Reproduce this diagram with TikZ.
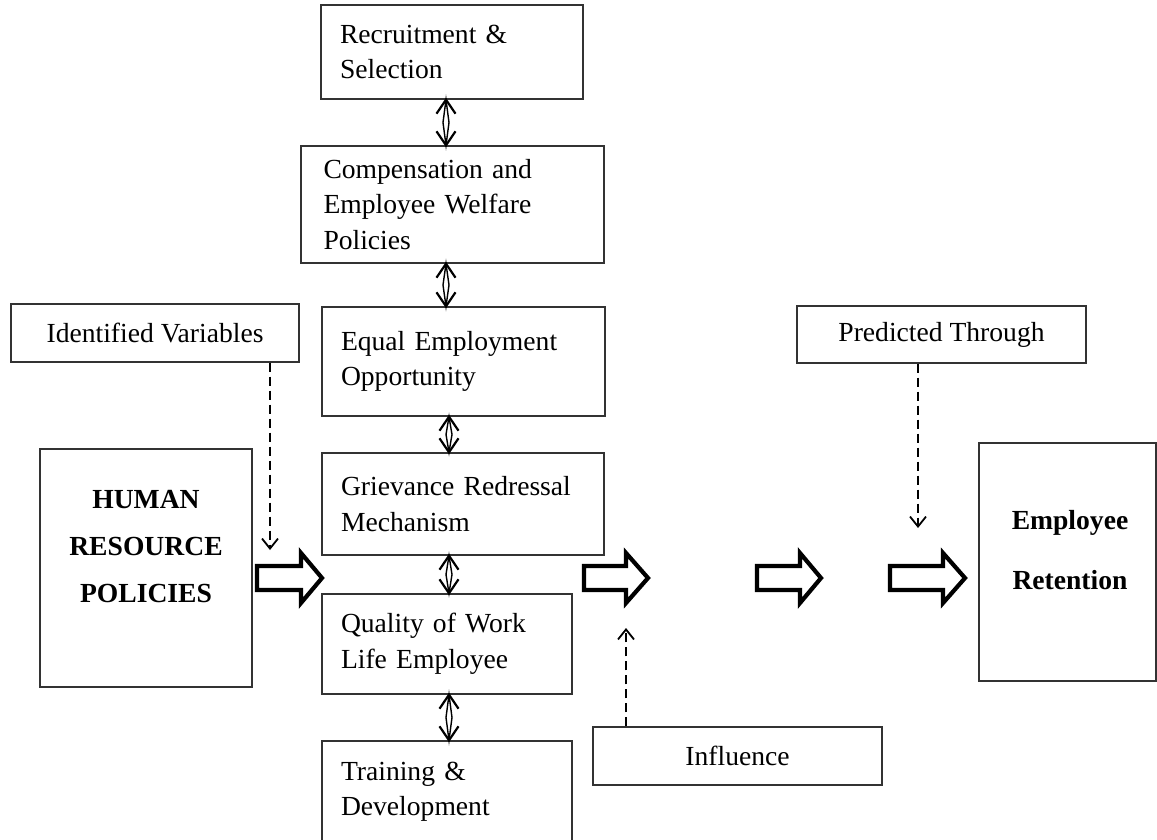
\documentclass[tikz,border=0pt]{standalone}
\usepackage{fontspec}
\setmainfont{Liberation Serif}
\usetikzlibrary{arrows.meta,calc}
\newcommand\uda[3]{%
  \path (#1 |- #2) coordinate (ua) (#1 |- #3) coordinate (ub);
  \draw[lens] (ua) -- ($(ua)!0.5!(ub)+(3,0)$) -- (ub) -- ($(ua)!0.5!(ub)+(-3,0)$) -- cycle;
  \draw[barb] ($(ua)+(-9.5,14)$) -- (ua) -- ($(ua)+(9.5,14)$);
  \draw[barb] ($(ub)+(-9.5,-14)$) -- (ub) -- ($(ub)+(9.5,-14)$);
}
\newcommand\blkarr[4]{%
  \draw[blk] (#1,#4-12) -- (#2,#4-12) -- (#2,#4-25) -- (#3,#4) -- (#2,#4+25) -- (#2,#4+12) -- (#1,#4+12) -- cycle;
}
\begin{document}
\begin{tikzpicture}[x=1pt,y=-1pt,
  box/.style={draw=black!80, line width=1.4pt, rectangle, inner ysep=0pt, font=\fontsize{27.6}{35.5}\selectfont},
  midbox/.style={box, align=left},
  capbox/.style={box, align=center, inner xsep=0pt},
  bigtxt/.style={font=\fontsize{27.6}{47}\selectfont\bfseries, align=center, inner sep=0pt},
  blk/.style={draw=black, line width=4.2pt, fill=white, miter limit=10},
  lens/.style={draw=black, line width=1.4pt},
  barb/.style={draw=black, line width=2.2pt},
  dsh/.style={draw=black, line width=2.5pt, dash pattern=on 9pt off 5pt, -{Straight Barb[length=10pt,width=16pt,line width=1.8pt]}}
]
\useasboundingbox (0,0) rectangle (1157,840);
\fill[white] (0,0) rectangle (1157,840);

% middle column
\node[midbox, minimum width=262pt, minimum height=94pt, text width=224pt, inner xsep=19pt] (rec) at (452,52) {Recruitment \&\\Selection};
\node[midbox, minimum width=303pt, minimum height=117pt, text width=258pt, inner xsep=22.5pt] (comp) at (452.5,204.5) {Compensation and\\Employee Welfare\\Policies};
\node[midbox, minimum width=283pt, minimum height=109pt, text width=245pt, inner xsep=19pt] (eeo) at (463.5,361.5) {Equal Employment\\Opportunity};
\node[midbox, minimum width=282pt, minimum height=102pt, text width=244pt, inner xsep=19pt] (grm) at (463,504) {Grievance Redressal\\Mechanism};
\node[midbox, minimum width=250pt, minimum height=100pt, text width=212pt, inner xsep=19pt] (qwl) at (447,644) {Quality of Work\\Life Employee};
\node[midbox, minimum width=250pt, minimum height=102pt, text width=212pt, inner xsep=19pt] (td) at (447,792) {Training \&\\Development};

% side boxes
\node[capbox, minimum width=288pt, minimum height=58pt] (idv) at (155,333) {Identified Variables};
\node[capbox, minimum width=289pt, minimum height=57pt] (pt) at (941.5,334.5) {Predicted Through};
\node[capbox, minimum width=289pt, minimum height=58pt] (inf) at (737.5,756) {Influence};

\node[box, minimum width=212pt, minimum height=238pt] (hrp) at (146,568) {};
\node[bigtxt, anchor=north] (hrpt) at (146,490) {HUMAN\\RESOURCE\\POLICIES};
\node[box, minimum width=177pt, minimum height=238pt] (er) at (1067.5,562) {};
\node[bigtxt, anchor=north, font=\fontsize{27.6}{60}\selectfont\bfseries] (ert) at (1070,510) {Employee\\Retention};

% double arrows
\coordinate (u1) at (446,0);
\coordinate (u2) at (449,0);
\uda{u1}{rec.south}{comp.north}
\uda{u1}{comp.south}{eeo.north}
\uda{u2}{eeo.south}{grm.north}
\uda{u2}{grm.south}{qwl.north}
\uda{u2}{qwl.south}{td.north}

% dashed arrows
\coordinate (d1) at (270,550);
\draw[dsh] (d1 |- idv.south) -- (d1);
\coordinate (d2) at (918,528);
\draw[dsh] (d2 |- pt.south) -- (d2);
\coordinate (d3) at (626,628);
\draw[dsh] (d3 |- inf.north) -- (d3);

% block arrows
\blkarr{257}{301}{322}{578}
\blkarr{584}{626}{648}{578}
\blkarr{757}{800}{821}{578}
\blkarr{890}{943}{965}{578}
\end{tikzpicture}
\end{document}
